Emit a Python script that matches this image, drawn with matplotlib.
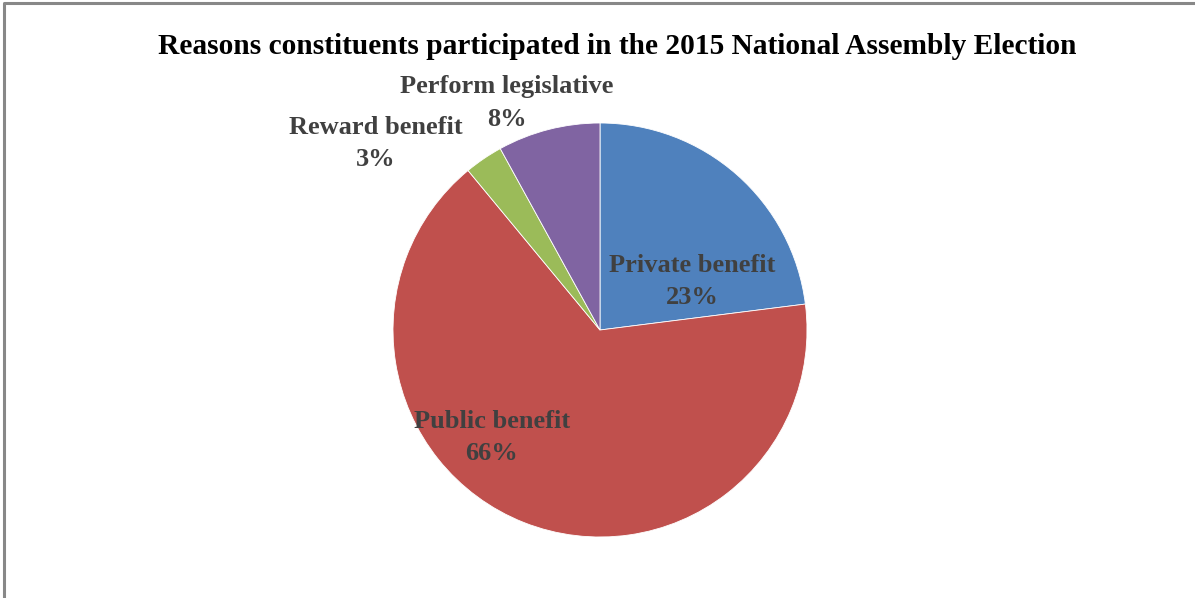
import matplotlib.pyplot as plt

# survey shares, clockwise from 12 o'clock
reasons = ["Private benefit", "Public benefit", "Reward benefit", "Perform legislative"]
shares = [23, 66, 3, 8]
colors = ["#4F81BD", "#C0504D", "#9BBB59", "#8064A2"]

# where each two-line label sits (pixel coords, y measured from the top)
label_xy = [(692, 282), (492, 437), (376, 143), (507, 103)]

W, H = 1195, 598
fig = plt.figure(figsize=(W / 100, H / 100), dpi=100)
ax = fig.add_axes([0, 0, 1, 1])
ax.set_xlim(0, W)
ax.set_ylim(0, H)
ax.set_aspect("equal")
ax.axis("off")

# chart frame (only top and left edges show)
ax.plot([4, 4, W + 5], [-5, H - 3, H - 3], color="#888888", lw=2.2,
        solid_capstyle="butt", clip_on=False)

ax.pie(shares, colors=colors, startangle=90, counterclock=False,
       center=(600, H - 330), radius=207,
       wedgeprops=dict(edgecolor="white", linewidth=0.6))
ax.set_xlim(0, W)
ax.set_ylim(0, H)

font = dict(family="Liberation Serif", weight="bold")
for name, val, (x, y) in zip(reasons, shares, label_xy):
    ax.text(x, H - y, f"{name}\n{val}%", ha="center", va="center",
            fontsize=19, color="#404040", linespacing=1.5, **font)

ax.text(617, H - 46, "Reasons constituents participated in the 2015 National Assembly Election",
        ha="center", va="center", fontsize=21.2, color="black", **font)

fig.savefig("out.png", dpi=100)
